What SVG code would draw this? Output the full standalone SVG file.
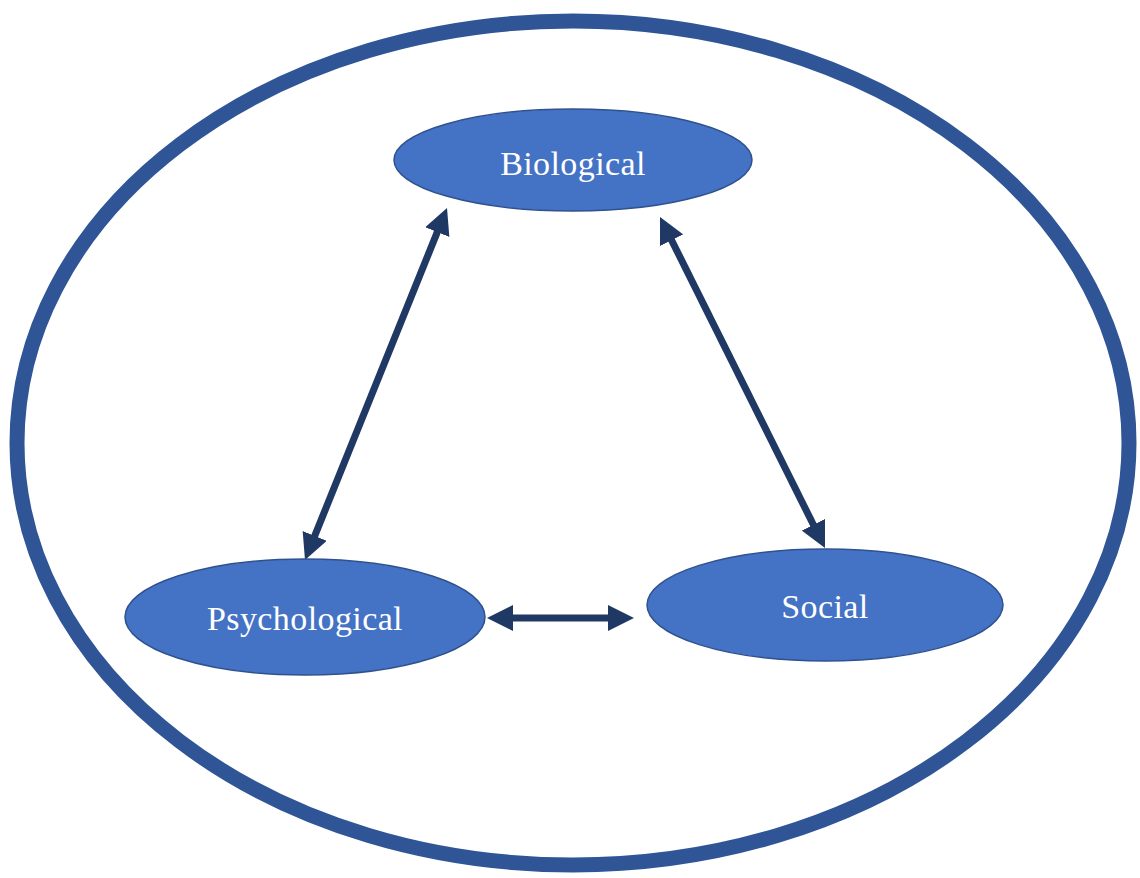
<svg xmlns="http://www.w3.org/2000/svg" width="1140" height="878" viewBox="0 0 1140 878">
<style>
.node{fill:#4472C4;stroke:#2F528F;stroke-width:1.5}
.lbl{font-family:"Liberation Serif","Times New Roman",serif;font-size:34px;fill:#ffffff;text-anchor:middle;letter-spacing:0.4px}
.conn{stroke:#1F3864;stroke-width:7;fill:none}
</style>
<defs>
<marker id="ah" markerUnits="userSpaceOnUse" markerWidth="26" markerHeight="26" refX="7" refY="13" orient="auto-start-reverse" viewBox="0 0 26 26">
<path d="M0,0 L26,13 L0,26 z" fill="#1F3864"/>
</marker>
</defs>
<rect width="1140" height="878" fill="#ffffff"/>
<g id="outer">
<ellipse cx="573" cy="443" rx="556" ry="422" fill="none" stroke="#2F5597" stroke-width="15"/>
</g>
<g id="connectors">
<line class="conn" x1="312.1" y1="542.4" x2="439.9" y2="225.6" marker-start="url(#ah)" marker-end="url(#ah)"/>
<line class="conn" x1="668.5" y1="234" x2="816.5" y2="531" marker-start="url(#ah)" marker-end="url(#ah)"/>
<line class="conn" x1="506" y1="618" x2="615" y2="618" marker-start="url(#ah)" marker-end="url(#ah)"/>
</g>
<g id="biological">
<ellipse class="node" cx="573" cy="160" rx="179" ry="51"/>
<text class="lbl" x="573" y="175">Biological</text>
</g>
<g id="psychological">
<ellipse class="node" cx="305" cy="617" rx="180" ry="58"/>
<text class="lbl" x="305" y="630">Psychological</text>
</g>
<g id="social">
<ellipse class="node" cx="825" cy="605" rx="178" ry="56"/>
<text class="lbl" x="825" y="618">Social</text>
</g>
</svg>
